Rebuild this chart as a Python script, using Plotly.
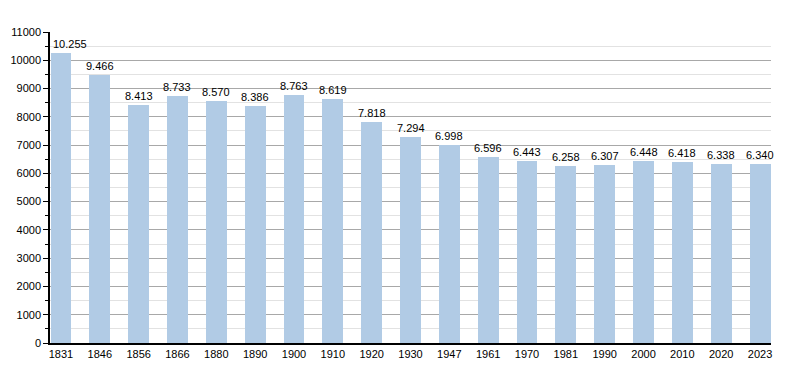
import plotly.graph_objects as go

years = ["1831", "1846", "1856", "1866", "1880", "1890", "1900", "1910", "1920", "1930",
         "1947", "1961", "1970", "1981", "1990", "2000", "2010", "2020", "2023"]
population = [10255, 9466, 8413, 8733, 8570, 8386, 8763, 8619, 7818, 7294,
              6998, 6596, 6443, 6258, 6307, 6448, 6418, 6338, 6340]
labels = [f"{v:,}".replace(",", ".") for v in population]
y_ticks = list(range(0, 11001, 1000))
xs = list(range(len(years)))

fig = go.Figure()
fig.add_trace(go.Bar(
    x=xs, y=population,
    marker=dict(color="#b1cbe5", line=dict(width=0)),
    width=0.54, hoverinfo="y",
))
for i, (x, y, t) in enumerate(zip(xs, population, labels)):
    fig.add_annotation(
        x=x, y=y, text=t, showarrow=False, yanchor="bottom",
        xanchor="left" if i == 0 else "center",
        xshift=-10 if i == 0 else 0, yshift=1,
        font=dict(size=11, color="#000000"),
    )

fig.update_layout(
    width=792, height=365,
    margin=dict(l=42, r=29, t=24, b=30, autoexpand=False),
    paper_bgcolor="white", plot_bgcolor="white",
    font=dict(family="Liberation Sans, Arial, sans-serif", size=11, color="#000000"),
    showlegend=False,
    bargap=0,
)
fig.update_xaxes(
    tickmode="array", tickvals=xs, ticktext=years,
    range=[-0.283, len(years) - 1 + 0.283], automargin=False,
    showline=True, linecolor="#000000", linewidth=1.5,
    showgrid=False, ticks="", tickfont=dict(size=11),
)
fig.update_yaxes(
    range=[0, 11000], tickvals=y_ticks, tickformat="d", automargin=False,
    showline=True, linecolor="#000000", linewidth=1.5,
    showgrid=True, gridcolor="#a8a8a8", gridwidth=1,
    ticks="outside", ticklen=5, tickcolor="#000000",
    minor=dict(dtick=500, showgrid=True, gridcolor="#e2e2e2", ticks="outside", ticklen=3, tickcolor="#000000"),
    zeroline=False, tickfont=dict(size=11),
)

fig.write_html("out.html")
